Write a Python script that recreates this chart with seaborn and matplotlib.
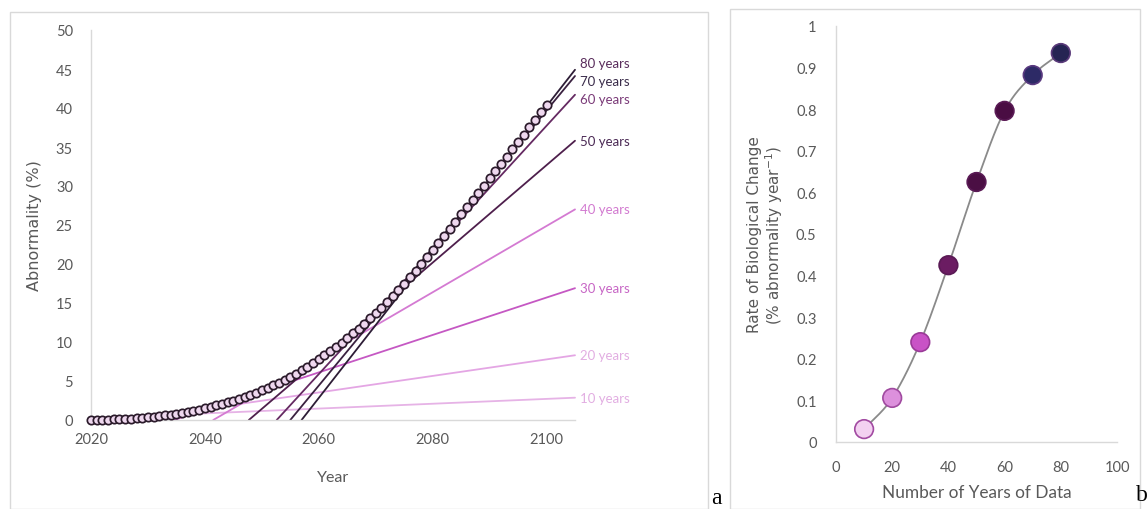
import numpy as np
import pandas as pd
import matplotlib
matplotlib.use("Agg")
import matplotlib.pyplot as plt
from matplotlib.patches import Rectangle
import seaborn as sns

# ---------------- data ----------------
years = list(range(2020, 2101))
abnormality = [
    0.00, 0.01, 0.03, 0.05, 0.08, 0.11, 0.15, 0.19, 0.24, 0.29,
    0.35, 0.42, 0.50, 0.59, 0.69, 0.80, 0.92, 1.05, 1.19, 1.34,
    1.50, 1.67, 1.86, 2.06, 2.27, 2.50, 2.74, 2.99, 3.25, 3.52,
    3.80, 4.11, 4.44, 4.79, 5.16, 5.55, 5.96, 6.39, 6.84, 7.31,
    7.80, 8.30, 8.82, 9.36, 9.92, 10.50, 11.10, 11.72, 12.36, 13.02,
    13.70, 14.42, 15.16, 15.92, 16.70, 17.50, 18.32, 19.16, 20.02, 20.90,
    21.80, 22.70, 23.61, 24.52, 25.43, 26.35, 27.27, 28.19, 29.11, 30.04,
    30.97, 31.90, 32.83, 33.77, 34.71, 35.65, 36.59, 37.53, 38.48, 39.43,
    40.38,
]

n_years = [10, 20, 30, 40, 50, 60, 70, 80]
rates = [0.031, 0.106, 0.240, 0.425, 0.625, 0.796, 0.882, 0.935]
line_end_year = 2105
line_end_values = [2.86, 8.3, 16.9, 27.0, 35.8, 41.7, 44.1, 44.9]
series_labels = ["10 years", "20 years", "30 years", "40 years",
                 "50 years", "60 years", "70 years", "80 years"]

line_colors = ["#e6b3e6", "#e4a6e4", "#c558c3", "#d47ad2",
               "#4e1f4c", "#652a62", "#3a2140", "#2d1d36"]
label_colors = ["#e2aee2", "#e2aee2", "#c766c5", "#d27ad0",
                "#4b2a55", "#7a3a78", "#3b2d4b", "#5a2d5c"]
marker_face = ["#f3d1f1", "#dc90dc", "#c952c6", "#6b1c62",
               "#4b0f44", "#4a0d43", "#2d2a66", "#252453"]
marker_edge = ["#a24aa2", "#a04aa0", "#9a3a98", "#5a1a55",
               "#5a1a55", "#5a1a55", "#5a3a80", "#5a3a7a"]

# ---------------- style ----------------
sns.set_theme(style="white")
plt.rcParams["font.family"] = ["Lato", "DejaVu Sans"]
TICK_C = "#595959"
AX_C = "#d9d9d9"

fig = plt.figure(figsize=(11.48, 5.10), dpi=100)
W, H = 1148, 510


def px_axes(x0, y0, x1, y1):
    return fig.add_axes([x0 / W, 1 - y1 / H, (x1 - x0) / W, (y1 - y0) / H])


# panel frames
fig.patches.append(Rectangle((10 / W, 0), (708 - 10) / W, 1 - 13 / H,
                             transform=fig.transFigure, fill=False,
                             edgecolor="#d9d9d9", linewidth=1.0, zorder=0))
fig.patches.append(Rectangle((730 / W, 0), (1140 - 730) / W, 1 - 10 / H,
                             transform=fig.transFigure, fill=False,
                             edgecolor="#d9d9d9", linewidth=1.0, zorder=0))

# ---------------- left panel ----------------
ax = px_axes(91, 31, 575, 421)
df_curve = pd.DataFrame({"Year": years, "Abnormality": abnormality})

for i in range(len(n_years)):
    y_end = line_end_values[i]
    x_start = max(years[0], line_end_year - y_end / rates[i])
    y_start = y_end - rates[i] * (line_end_year - x_start)
    seg = pd.DataFrame({"x": [x_start, line_end_year], "y": [y_start, y_end]})
    sns.lineplot(data=seg, x="x", y="y", ax=ax, color=line_colors[i],
                 linewidth=1.3, zorder=2, clip_on=False)

sns.scatterplot(data=df_curve, x="Year", y="Abnormality", ax=ax, s=36,
                facecolor="#efd8ef", edgecolor="#2b1b2b", linewidth=1.25,
                zorder=3, clip_on=False)

label_offsets = [0, 0, 0, 0, 0, -0.6, -0.6, 0.9]
for i in range(len(n_years)):
    ax.text(line_end_year + 0.8, line_end_values[i] + label_offsets[i],
            series_labels[i], color=label_colors[i], fontsize=9.5,
            va="center", ha="left", clip_on=False)

ax.set_xlim(2020, 2105)
ax.set_ylim(0, 50)
ax.set_xticks([2020, 2040, 2060, 2080, 2100])
ax.set_yticks(range(0, 51, 5))
ax.tick_params(axis="both", colors=TICK_C, labelsize=10.5, length=0)
ax.tick_params(axis="y", pad=13)
ax.tick_params(axis="x", pad=9)
for s in ["top", "right"]:
    ax.spines[s].set_visible(False)
for s in ["left", "bottom"]:
    ax.spines[s].set_color(AX_C)
    ax.spines[s].set_linewidth(1.0)
ax.set_xlabel("Year", color=TICK_C, fontsize=11.5, labelpad=17)
ax.set_ylabel("Abnormality (%)", color=TICK_C, fontsize=11.5, labelpad=10,
              family="DejaVu Sans")
ax.set_facecolor("none")


# ---------------- right panel ----------------
def smooth_curve(xs, ys, n=30, tension=0.5):
    xs = np.asarray(xs, float)
    ys = np.asarray(ys, float)
    px = np.concatenate([[2 * xs[0] - xs[1]], xs, [2 * xs[-1] - xs[-2]]])
    py = np.concatenate([[2 * ys[0] - ys[1]], ys, [2 * ys[-1] - ys[-2]]])
    outx, outy = [], []
    t = np.linspace(0, 1, n)
    for k in range(1, len(px) - 2):
        p0, p1, p2, p3 = (np.array([px[j], py[j]]) for j in (k - 1, k, k + 1, k + 2))
        m1 = tension * (p2 - p0)
        m2 = tension * (p3 - p1)
        h00 = 2 * t**3 - 3 * t**2 + 1
        h10 = t**3 - 2 * t**2 + t
        h01 = -2 * t**3 + 3 * t**2
        h11 = t**3 - t**2
        pts = (np.outer(h00, p1) + np.outer(h10, m1) +
               np.outer(h01, p2) + np.outer(h11, m2))
        outx.extend(pts[:, 0])
        outy.extend(pts[:, 1])
    return np.array(outx), np.array(outy)


ax2 = px_axes(836, 27, 1117, 443)
sx, sy = smooth_curve(n_years, rates)
sns.lineplot(x=sx, y=sy, ax=ax2, color="#8a8a8a", linewidth=1.3,
             sort=False, estimator=None, zorder=2)
df_rate = pd.DataFrame({"Years": n_years, "Rate": rates, "lab": series_labels})
sns.scatterplot(data=df_rate, x="Years", y="Rate", hue="lab",
                palette=dict(zip(series_labels, marker_face)), ax=ax2,
                s=180, edgecolor=marker_edge, linewidth=1.2, zorder=3,
                legend=False, clip_on=False)

ax2.set_xlim(0, 100)
ax2.set_ylim(0, 1)
ax2.set_xticks(range(0, 101, 20))
ax2.set_yticks([0, 0.1, 0.2, 0.3, 0.4, 0.5, 0.6, 0.7, 0.8, 0.9, 1])
ax2.set_yticklabels(["0", "0.1", "0.2", "0.3", "0.4", "0.5", "0.6",
                     "0.7", "0.8", "0.9", "1"])
ax2.tick_params(axis="both", colors=TICK_C, labelsize=10.5, length=0)
ax2.tick_params(axis="y", pad=14)
ax2.tick_params(axis="x", pad=13)
for s in ["top", "right"]:
    ax2.spines[s].set_visible(False)
for s in ["left", "bottom"]:
    ax2.spines[s].set_color(AX_C)
    ax2.spines[s].set_linewidth(1.0)
ax2.set_xlabel("Number of Years of Data", color=TICK_C, fontsize=12.4,
               labelpad=7)
ax2.set_ylabel("Rate of Biological Change\n(% abnormality year$^{-1}$)",
               color=TICK_C, fontsize=11, labelpad=8, linespacing=1.05,
               family="DejaVu Sans")
ax2.set_facecolor("none")

# panel letters
fig.text(711 / W, 1 - 499 / H, "a", family="Liberation Serif",
         fontsize=17, color="black", ha="left", va="center")
fig.text(1136 / W, 1 - 496 / H, "b", family="Liberation Serif",
         fontsize=17, color="black", ha="left", va="center")

fig.savefig("out.png", dpi=100, facecolor="white")
